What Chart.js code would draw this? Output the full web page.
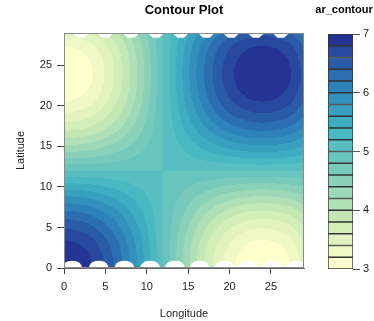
<!DOCTYPE html>
<html>
<head>
<meta charset="utf-8">
<script src="https://cdn.jsdelivr.net/npm/chart.js@4.4.1/dist/chart.umd.min.js"></script>
<style>
  html, body { margin: 0; padding: 0; background: #fff; }
  #wrap { position: relative; width: 374px; height: 321px; }
  #wrap canvas { position: absolute; left: 0; top: 0; }
</style>
</head>
<body>
<div id="wrap">
  <canvas id="plot" width="374" height="321"></canvas>
  <canvas id="legend" width="374" height="321"></canvas>
</div>
<script>
// grid the surface was read on (longitude / latitude)
const gridX = [0, 3, 6, 9, 12, 15, 18, 21, 24, 27, 30];
const gridY = [0, 3, 6, 9, 12, 15, 18, 21, 24, 27, 30];
// ar_contour values, one row per latitude in gridY (bottom row first)
const zValues = [
  [7.00, 6.85, 6.41, 5.77, 5.00, 4.23, 3.59, 3.15, 3.00, 3.15, 3.59],
  [6.85, 6.71, 6.31, 5.71, 5.00, 4.29, 3.69, 3.29, 3.15, 3.29, 3.69],
  [6.41, 6.31, 6.00, 5.54, 5.00, 4.46, 4.00, 3.69, 3.59, 3.69, 4.00],
  [5.77, 5.71, 5.54, 5.29, 5.00, 4.71, 4.46, 4.29, 4.23, 4.29, 4.46],
  [5.00, 5.00, 5.00, 5.00, 5.00, 5.00, 5.00, 5.00, 5.00, 5.00, 5.00],
  [4.23, 4.29, 4.46, 4.71, 5.00, 5.29, 5.54, 5.71, 5.77, 5.71, 5.54],
  [3.59, 3.69, 4.00, 4.46, 5.00, 5.54, 6.00, 6.31, 6.41, 6.31, 6.00],
  [3.15, 3.29, 3.69, 4.29, 5.00, 5.71, 6.31, 6.71, 6.85, 6.71, 6.31],
  [3.00, 3.15, 3.59, 4.23, 5.00, 5.77, 6.41, 6.85, 7.00, 6.85, 6.41],
  [3.15, 3.29, 3.69, 4.29, 5.00, 5.71, 6.31, 6.71, 6.85, 6.71, 6.31],
  [3.59, 3.69, 4.00, 4.46, 5.00, 5.54, 6.00, 6.31, 6.41, 6.31, 6.00]
];
const levels = [3.0, 3.2, 3.4, 3.6, 3.8, 4.0, 4.2, 4.4, 4.6, 4.8, 5.0,
                5.2, 5.4, 5.6, 5.8, 6.0, 6.2, 6.4, 6.6, 6.8, 7.0];
const axisTicks = [0, 5, 10, 15, 20, 25];
const legendTicks = [3, 4, 5, 6, 7];
// white gaps along the top and bottom edge of the filled surface
const topGaps = [2, 5, 8.1, 11.1, 14.1, 17.2, 20.2, 23.2, 26.2];
const bottomGaps = [1, 4.2, 7.3, 10.4, 13.4, 16.4, 19.4, 22.3, 25.2, 28.1];
const paletteStops = ['#ffffcc', '#c7e9b4', '#7fcdbb', '#41b6c4', '#2c7fb8', '#253494'];

const FONT = "'Liberation Sans', Arial, sans-serif";

function hexToRgb(h) {
  return [parseInt(h.slice(1, 3), 16), parseInt(h.slice(3, 5), 16), parseInt(h.slice(5, 7), 16)];
}
function ramp(t) {
  const pos = t * (paletteStops.length - 1);
  const i = Math.min(Math.floor(pos), paletteStops.length - 2);
  const f = pos - i;
  const a = hexToRgb(paletteStops[i]), b = hexToRgb(paletteStops[i + 1]);
  return a.map((v, k) => Math.round(v + (b[k] - v) * f));
}
const nBands = levels.length - 1;
const bandRgb = [];
for (let k = 0; k < nBands; k++) bandRgb.push(ramp(k / (nBands - 1)));
const bandColors = bandRgb.map(c => `rgb(${c[0]}, ${c[1]}, ${c[2]})`);

function cubic(p0, p1, p2, p3, t) {
  return p1 + 0.5 * t * (p2 - p0 + t * (2 * p0 - 5 * p1 + 4 * p2 - p3 + t * (3 * (p1 - p2) + p3 - p0)));
}
function sampleZ(x, y) {
  const nx = gridX.length, ny = gridY.length;
  const u = (x - gridX[0]) / (gridX[1] - gridX[0]);
  const v = (y - gridY[0]) / (gridY[1] - gridY[0]);
  const i = Math.min(Math.max(Math.floor(u), 0), nx - 2);
  const j = Math.min(Math.max(Math.floor(v), 0), ny - 2);
  const tx = u - i, ty = v - j;
  const at = (jj, ii) => zValues[Math.min(Math.max(jj, 0), ny - 1)][Math.min(Math.max(ii, 0), nx - 1)];
  const rows = [];
  for (let m = -1; m <= 2; m++) {
    rows.push(cubic(at(j + m, i - 1), at(j + m, i), at(j + m, i + 1), at(j + m, i + 2), tx));
  }
  return cubic(rows[0], rows[1], rows[2], rows[3], ty);
}
function bandOf(z) {
  for (let k = 0; k < nBands; k++) {
    if (z < levels[k + 1]) return Math.max(k, 0);
  }
  return nBands - 1;
}

const contourPlugin = {
  id: 'contourFill',
  beforeDatasetsDraw(chart) {
    const { ctx, chartArea, scales } = chart;
    const left = Math.round(chartArea.left), top = Math.round(chartArea.top);
    const w = Math.round(chartArea.right) - left, h = Math.round(chartArea.bottom) - top;
    const img = ctx.createImageData(w, h);
    for (let py = 0; py < h; py++) {
      const yv = scales.y.getValueForPixel(top + py + 0.5);
      for (let px = 0; px < w; px++) {
        const xv = scales.x.getValueForPixel(left + px + 0.5);
        const c = bandRgb[bandOf(sampleZ(xv, yv))];
        const o = (py * w + px) * 4;
        img.data[o] = c[0]; img.data[o + 1] = c[1]; img.data[o + 2] = c[2]; img.data[o + 3] = 255;
      }
    }
    ctx.putImageData(img, left, top);

    // white gaps at the edges of the surface
    const X = v => scales.x.getPixelForValue(v);
    const Y = v => scales.y.getPixelForValue(v);
    ctx.save();
    ctx.beginPath();
    ctx.rect(chartArea.left, chartArea.top, chartArea.right - chartArea.left, chartArea.bottom - chartArea.top);
    ctx.clip();
    ctx.fillStyle = '#ffffff';
    topGaps.forEach(cx => {
      ctx.beginPath();
      ctx.moveTo(X(cx - 1.2), Y(29.2));
      ctx.lineTo(X(cx + 1.2), Y(29.2));
      ctx.lineTo(X(cx + 0.4), Y(28.4));
      ctx.lineTo(X(cx - 0.4), Y(28.4));
      ctx.closePath();
      ctx.fill();
    });
    bottomGaps.forEach(cx => {
      ctx.beginPath();
      ctx.moveTo(X(cx - 1.25), Y(-0.2));
      ctx.lineTo(X(cx - 1.1), Y(0.35));
      ctx.quadraticCurveTo(X(cx - 0.8), Y(0.9), X(cx), Y(0.9));
      ctx.quadraticCurveTo(X(cx + 0.8), Y(0.9), X(cx + 1.1), Y(0.35));
      ctx.lineTo(X(cx + 1.25), Y(-0.2));
      ctx.closePath();
      ctx.fill();
    });
    ctx.restore();
  },
  afterDraw(chart) {
    const { ctx, chartArea } = chart;
    ctx.save();
    ctx.strokeStyle = '#8a8a8a';
    ctx.lineWidth = 1;
    ctx.strokeRect(Math.round(chartArea.left) + 0.5, Math.round(chartArea.top) + 0.5,
      Math.round(chartArea.right - chartArea.left) - 1, Math.round(chartArea.bottom - chartArea.top) - 1);
    ctx.fillStyle = '#000';
    ctx.textAlign = 'center';
    ctx.textBaseline = 'middle';
    ctx.font = `bold 13px ${FONT}`;
    ctx.fillText('Contour Plot', 184, 10);
    ctx.font = `bold 11px ${FONT}`;
    ctx.fillText('ar_contour', 344, 10);
    ctx.restore();
  }
};

const tickFont = { family: FONT, size: 11 };

new Chart(document.getElementById('plot'), {
  type: 'scatter',
  data: { datasets: [{ data: [], pointRadius: 0 }] },
  options: {
    responsive: false,
    animation: false,
    layout: { padding: { top: 33, right: 70, left: 0, bottom: 0 } },
    plugins: { legend: { display: false }, tooltip: { enabled: false }, title: { display: false } },
    scales: {
      x: {
        type: 'linear', min: 0, max: 29,
        afterBuildTicks: s => { s.ticks = axisTicks.map(v => ({ value: v })); },
        afterFit: s => { s.height = 53; },
        grid: { drawOnChartArea: false, tickLength: 6, tickColor: '#444' },
        border: { color: '#666' },
        ticks: { font: tickFont, color: '#222', padding: 6, maxRotation: 0 },
        title: { display: true, text: 'Longitude', font: tickFont, color: '#222', padding: { top: 0, bottom: 0 } }
      },
      y: {
        type: 'linear', min: 0, max: 29,
        afterBuildTicks: s => { s.ticks = axisTicks.map(v => ({ value: v })); },
        afterFit: s => { s.width = 64; },
        grid: { drawOnChartArea: false, tickLength: 7, tickColor: '#444' },
        border: { color: '#666' },
        ticks: { font: tickFont, color: '#222', padding: 5 },
        title: { display: true, text: 'Latitude', font: tickFont, color: '#222', padding: { top: 14, bottom: 0 } }
      }
    }
  },
  plugins: [contourPlugin]
});

// colour key
const bandDatasets = bandColors.map((col, k) => ({
  data: [[levels[k], levels[k + 1]]],
  backgroundColor: col,
  borderColor: '#333',
  borderWidth: 1,
  borderSkipped: false,
  barPercentage: 1,
  categoryPercentage: 1
}));

new Chart(document.getElementById('legend'), {
  type: 'bar',
  data: { labels: [''], datasets: bandDatasets },
  options: {
    responsive: false,
    animation: false,
    layout: { padding: { top: 34, right: 0, left: 328, bottom: 52 } },
    plugins: { legend: { display: false }, tooltip: { enabled: false } },
    scales: {
      x: { stacked: true, display: false },
      y: {
        position: 'right', min: 3, max: 7,
        afterBuildTicks: s => { s.ticks = legendTicks.map(v => ({ value: v })); },
        afterFit: s => { s.width = 21; },
        grid: { drawOnChartArea: false, tickLength: 7, tickColor: '#555' },
        border: { display: false },
        ticks: { font: tickFont, color: '#222', padding: 3 }
      }
    }
  }
});
</script>
</body>
</html>
